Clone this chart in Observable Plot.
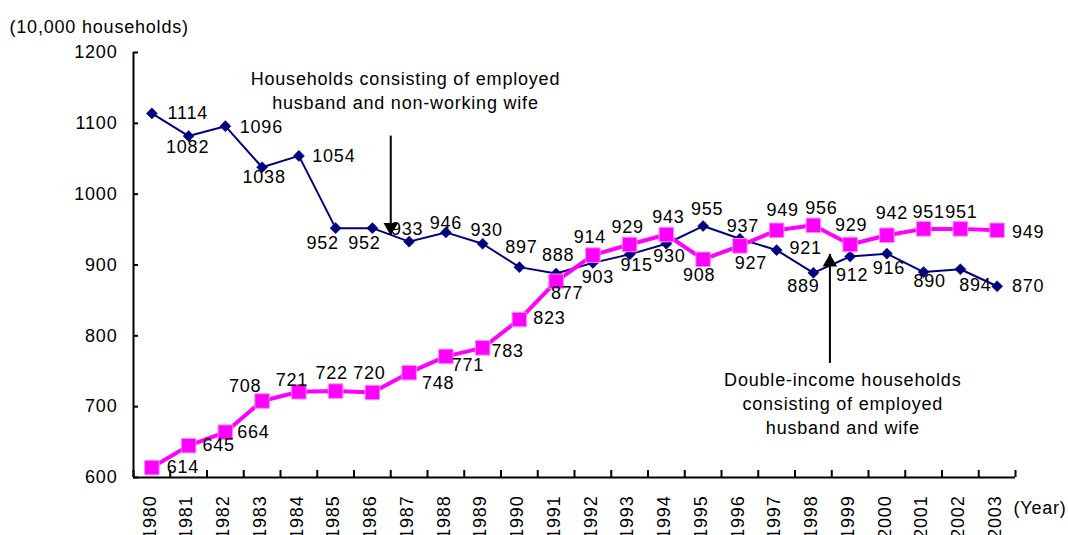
<!DOCTYPE html>
<html>
<head>
<meta charset="utf-8">
<script src="https://cdn.jsdelivr.net/npm/d3@7"></script>
<script src="https://cdn.jsdelivr.net/npm/@observablehq/plot@0.6"></script>
<style>
  html, body { margin: 0; padding: 0; background: #fff; }
  svg { display: block; }
</style>
</head>
<body>
<div id="chart"></div>
<script>
// ---- data ----
const years = [1980,1981,1982,1983,1984,1985,1986,1987,1988,1989,1990,1991,1992,1993,1994,1995,1996,1997,1998,1999,2000,2001,2002,2003];
const husbandOnly = [1114,1082,1096,1038,1054,952,952,933,946,930,897,888,903,915,930,955,937,921,889,912,916,890,894,870];
const dualIncome = [614,645,664,708,721,722,720,748,771,783,823,877,914,929,943,908,927,949,956,929,942,951,951,949];
const yTicks = [600,700,800,900,1000,1100,1200];
const yUnitLabel = "(10,000 households)";
const xUnitLabel = "(Year)";
const husbandOnlyName = "Households consisting of employed\nhusband and non-working wife";
const dualIncomeName = "Double-income households\nconsisting of employed\nhusband and wife";

// ---- label placement (pixel offsets from each point) ----
const husbandLabelOffsets = [[36,0],[-1,11],[36,1],[2,10],[35,0],[-13,15],[-8,15],[-2,-12],[0,-9],[4,-14],[2,-20],[2,-18],[5,14],[7,11],[3,12],[4,-17],[3,-13],[29,-2],[-10,13],[2,19],[2,15],[6,9],[15,16],[31,0]];
const dualLabelOffsets = [[31,0],[30,0],[28,0],[-17,-15],[-7,-12],[-4,-18],[-3,-19],[29,11],[22,9],[25,3],[30,-1],[11,12],[-3,-18],[-2,-17],[2,-17],[-4,16],[11,17],[6,-20],[8,-17],[1,-19],[5,-22],[5,-17],[1,-17],[31,2]];

// ---- annotation anchors (data coordinates) ----
const annotations = [
  {text: husbandOnlyName, x: 1986.9, y: 1148, arrowX: 1986.5, from: 1082, to: 942, dir: "down"},
  {text: dualIncomeName, x: 1998.8, y: 706, arrowX: 1998.45, from: 761, to: 915, dir: "up"}
];

const husband = years.map((year, i) => ({year, value: husbandOnly[i], dx: husbandLabelOffsets[i][0], dy: husbandLabelOffsets[i][1]}));
const dual = years.map((year, i) => ({year, value: dualIncome[i], dx: dualLabelOffsets[i][0], dy: dualLabelOffsets[i][1]}));
const bounds = [years[0] - 0.5, ...years.map(y => y + 0.5)];

const NAVY = "#000080";
const MAGENTA = "#ff00ff";

const labelMarks = (rows) => rows.map(d =>
  Plot.text([d], {x: "year", y: "value", text: d => String(d.value), dx: d.dx, dy: d.dy, fill: "#000"})
);

const chart = Plot.plot({
  width: 1068,
  height: 535,
  marginLeft: 133,
  marginRight: 53,
  marginTop: 52,
  marginBottom: 58,
  style: {fontFamily: "'Liberation Sans', Arial, sans-serif", fontSize: "18px", letterSpacing: "0.8px", background: "#fff", color: "#000"},
  x: {domain: [years[0] - 0.5, years[years.length - 1] + 0.5]},
  y: {domain: [yTicks[0], yTicks[yTicks.length - 1]]},
  marks: [
    // axes
    Plot.axisY({ticks: yTicks, tickSize: -5, tickPadding: 21, tickFormat: d => String(d), strokeWidth: 2, label: null, fontSize: 18}),
    Plot.axisX({ticks: bounds, tickSize: -7, tickFormat: () => "", strokeWidth: 2, label: null}),
    Plot.ruleX([bounds[0]], {stroke: "#000", strokeWidth: 2}),
    Plot.ruleY([yTicks[0]], {stroke: "#000", strokeWidth: 2}),
    Plot.text(years, {x: d => d, y: () => yTicks[0], text: d => String(d), rotate: -90, textAnchor: "end", dy: 18, dx: -2, fill: "#000"}),
    Plot.text([xUnitLabel], {frameAnchor: "bottom-right", textAnchor: "start", dx: -2, dy: 36, fill: "#000"}),
    Plot.text([yUnitLabel], {frameAnchor: "top-left", textAnchor: "start", dx: -124, dy: -32, fill: "#000"}),

    // series: husband only
    Plot.line(husband, {x: "year", y: "value", stroke: NAVY, strokeWidth: 2}),
    Plot.dot(husband, {x: "year", y: "value", symbol: "diamond2", r: 5, fill: NAVY, stroke: NAVY, strokeWidth: 0.5}),
    // series: dual income
    Plot.line(dual, {x: "year", y: "value", stroke: MAGENTA, strokeWidth: 4}),
    Plot.dot(dual, {x: "year", y: "value", symbol: "square", r: 8.2, fill: MAGENTA, stroke: "#ff8cff", strokeWidth: 1}),

    // value labels
    ...labelMarks(husband),
    ...labelMarks(dual),

    // annotations
    Plot.text(annotations, {x: "x", y: "y", text: "text", lineHeight: 1.35, textAnchor: "middle", fill: "#000"}),
    Plot.ruleX(annotations, {x: "arrowX", y1: "from", y2: "to", stroke: "#000", strokeWidth: 2}),
    Plot.dot(annotations.filter(a => a.dir === "down"), {x: "arrowX", y: "to", symbol: "triangle", r: 5.4, rotate: 180, dy: -8, fill: "#000", stroke: "none"}),
    Plot.dot(annotations.filter(a => a.dir === "up"), {x: "arrowX", y: "to", symbol: "triangle", r: 5.4, dy: 8, fill: "#000", stroke: "none"})
  ]
});

document.getElementById("chart").appendChild(chart);
</script>
</body>
</html>
